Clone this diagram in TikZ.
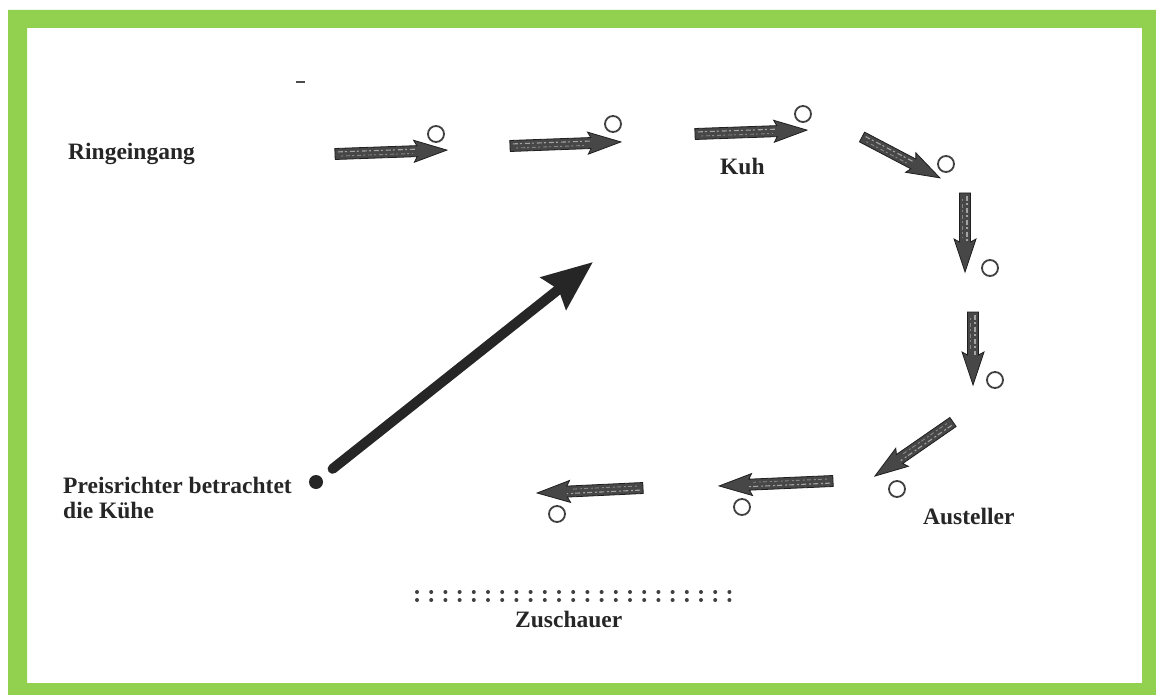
\documentclass[tikz,border=0pt]{standalone}
\usepackage{fontspec}
\setmainfont{Liberation Serif}
\usetikzlibrary{arrows.meta}
\definecolor{framegreen}{RGB}{146,208,80}
\begin{document}
\begin{tikzpicture}[x=1pt,y=-1pt,
  lbl/.style={font=\fontsize{23.5}{25}\selectfont\bfseries, text=black!85, inner sep=0pt},
  spot/.style={circle, draw=black!75, line width=1.8pt, minimum size=16pt, inner sep=0pt},
  judgedot/.style={circle, fill=black!85, minimum size=14pt, inner sep=0pt},
  bigarrow/.style={draw=black!85, line width=10pt, line cap=round, -{Stealth[length=50pt,width=40pt,inset=6pt]}},
  crowddot/.style={fill=black!75},
  pics/cowarrow/.style={code={
     \fill[black!72, draw=black!88, line width=.8pt] (0,-5.5) -- ({#1-30},-5.5) -- ({#1-33},-11) -- (#1,0) -- ({#1-33},11) -- ({#1-30},5.5) -- (0,5.5) -- cycle;
     \draw[white, opacity=.5, line width=1.1pt, dash pattern=on 5pt off 2pt on 2pt off 3pt] (3,-2) -- ({#1-30},-2);
     \draw[white, opacity=.35, line width=.9pt, dash pattern=on 2pt off 3pt on 4pt off 2pt] (6,2.2) -- ({#1-34},2.2);
  }}
]
\useasboundingbox (0,0) rectangle (1156,695);
\fill[white] (0,0) rectangle (1156,695);
\fill[framegreen, even odd rule] (8,10) rectangle (1156,695) (27,28) rectangle (1142,683);

% small mark
\draw[black!70, line width=2.4pt] (296,82) -- (305,82);

% labels
\node[lbl, anchor=base west] (entry) at (68,160) {Ringeingang};
\node[lbl, anchor=base west] (cow) at (720,175) {Kuh};
\node[lbl, anchor=base west] (exhibitor) at (923,524) {Austeller};
\node[lbl, anchor=base west] (judgeA) at (63,493) {Preisrichter betrachtet};
\node[lbl, anchor=base west] (judgeB) at (63,518) {die Kühe};
\node[lbl, anchor=base west] (crowd) at (515,627) {Zuschauer};

% path arrows
\pic[rotate=2.0]    at (335,154) {cowarrow=112};
\pic[rotate=2.1]    at (510,146) {cowarrow=111};
\pic[rotate=2.0]    at (695,134) {cowarrow=112};
\pic[rotate=-27.7]  at (862,137) {cowarrow=88};
\pic[rotate=-90]    at (965,193) {cowarrow=79};
\pic[rotate=-90]    at (973,312) {cowarrow=73};
\pic[rotate=-145.3] at (953,422) {cowarrow=95};
\pic[rotate=-177.5] at (833,481) {cowarrow=114};
\pic[rotate=-177.3] at (643,488) {cowarrow=106};

% cow positions
\node[spot] (c1) at (436,134) {};
\node[spot] (c2) at (613,124) {};
\node[spot] (c3) at (803,114) {};
\node[spot] (c4) at (946,164) {};
\node[spot] (c5) at (990,268) {};
\node[spot] (c6) at (995,380) {};
\node[spot] (c7) at (897,489) {};
\node[spot] (c8) at (742,507) {};
\node[spot] (c9) at (557,514) {};

% judge
\node[judgedot] (judge) at (316,482) {};
\coordinate (look) at (593,262);
\draw[bigarrow, shorten <=14pt] (judge) -- (look);

% spectators
\foreach \i in {0,...,22} {
  \fill[crowddot] ({417+14.2*\i},592) circle (2);
  \fill[crowddot] ({417+14.2*\i},600) circle (2);
}
\end{tikzpicture}
\end{document}
